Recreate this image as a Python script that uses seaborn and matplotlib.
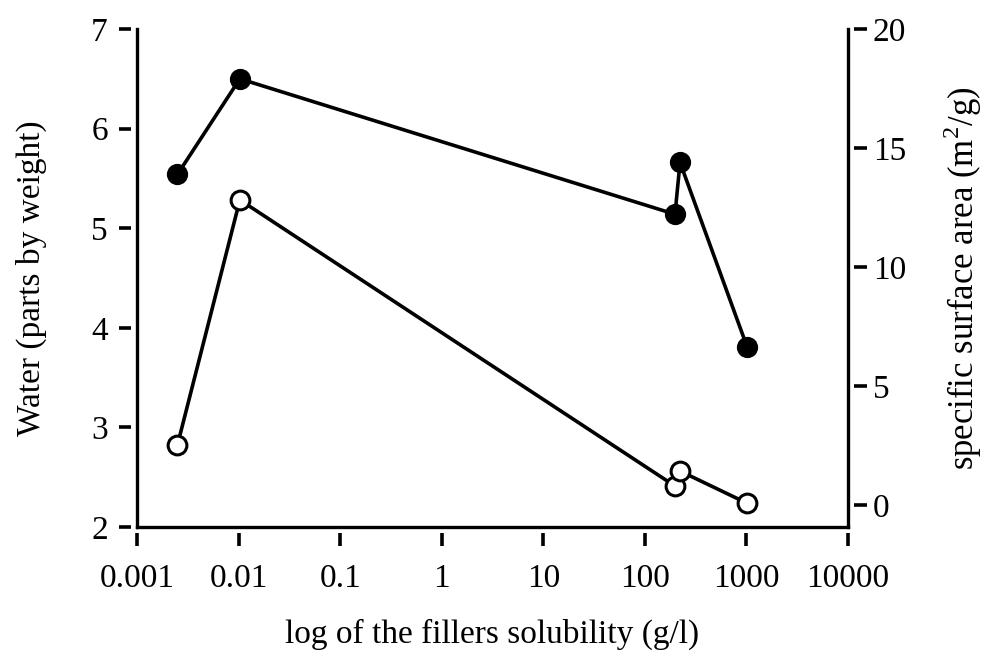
import numpy as np
import pandas as pd
import matplotlib
matplotlib.use("Agg")
import matplotlib.pyplot as plt
import seaborn as sns

# solubility (g/l) and the two measured quantities
solubility = [0.0025, 0.0103, 198, 222, 1014]
water = [5.54, 6.50, 5.14, 5.66, 3.81]
surface_area = [2.52, 12.82, 0.80, 1.43, 0.08]

x_ticks = [0.001, 0.01, 0.1, 1, 10, 100, 1000, 10000]
x_tick_labels = ["0.001", "0.01", "0.1", "1", "10", "100", "1000", "10000"]
water_ticks = [2, 3, 4, 5, 6, 7]
area_ticks = [0, 5, 10, 15, 20]

df = pd.DataFrame({"solubility": solubility, "water": water, "area": surface_area})

sns.set_style("white")
plt.rcParams["font.family"] = ["Liberation Serif", "DejaVu Serif"]
plt.rcParams["mathtext.fontset"] = "custom"
plt.rcParams["mathtext.rm"] = "Liberation Serif"
for key in ["text.color", "axes.labelcolor", "xtick.color", "ytick.color"]:
    plt.rcParams[key] = "black"

fig = plt.figure(figsize=(9.87, 6.52), dpi=100)
pos = [137 / 987, 1 - 527 / 652, (848 - 137) / 987, (527 - 29) / 652]

# frame axes: only the spines, so the ticks can sit a little apart from them
frame = fig.add_axes(pos)
frame.set_xticks([])
frame.set_yticks([])
frame.patch.set_alpha(0)
frame.spines["top"].set_visible(False)
for s in ["left", "bottom", "right"]:
    frame.spines[s].set_linewidth(2.4)
    frame.spines[s].set_color("black")

ax = fig.add_axes(pos)
ax.patch.set_alpha(0)
ax2 = ax.twinx()

sns.lineplot(data=df, x="solubility", y="water", ax=ax, color="black", lw=2.6,
             marker="o", markersize=13.5, markerfacecolor="black",
             markeredgecolor="black", markeredgewidth=1.8)
sns.lineplot(data=df, x="solubility", y="area", ax=ax2, color="black", lw=2.6,
             marker="o", markersize=13.5, markerfacecolor="white",
             markeredgecolor="black", markeredgewidth=2.2)

ax.set_xscale("log")
ax.set_xlim(0.001, 10000)
ax.set_ylim(2, 7)
ax2.set_ylim(-0.92, 20)
ax.set_xticks(x_ticks)
ax.set_xticklabels(x_tick_labels)
ax.minorticks_off()
ax.set_yticks(water_ticks)
ax2.set_yticks(area_ticks)

for a in (ax, ax2):
    for s in a.spines.values():
        s.set_visible(False)
ax.spines["left"].set_position(("outward", 4))
ax.spines["bottom"].set_position(("outward", 4))
ax2.spines["right"].set_position(("outward", 4))

ax.tick_params(axis="x", which="major", direction="out", length=9, width=2.6,
               labelsize=24, pad=13, bottom=True)
ax.tick_params(axis="y", which="major", direction="out", length=9, width=2.6,
               labelsize=24, pad=8, left=True)
ax2.tick_params(axis="y", which="major", direction="out", length=9, width=2.6,
                labelsize=24, pad=5, right=True)

ax.set_xlabel("log of the fillers solubility (g/l)", fontsize=24, labelpad=18)
ax.set_ylabel("Water (parts by weight)", fontsize=24, labelpad=32)
ax2.set_ylabel("specific surface area (m$^2$/g)", fontsize=25, labelpad=25)

fig.savefig("out.png", dpi=100)
